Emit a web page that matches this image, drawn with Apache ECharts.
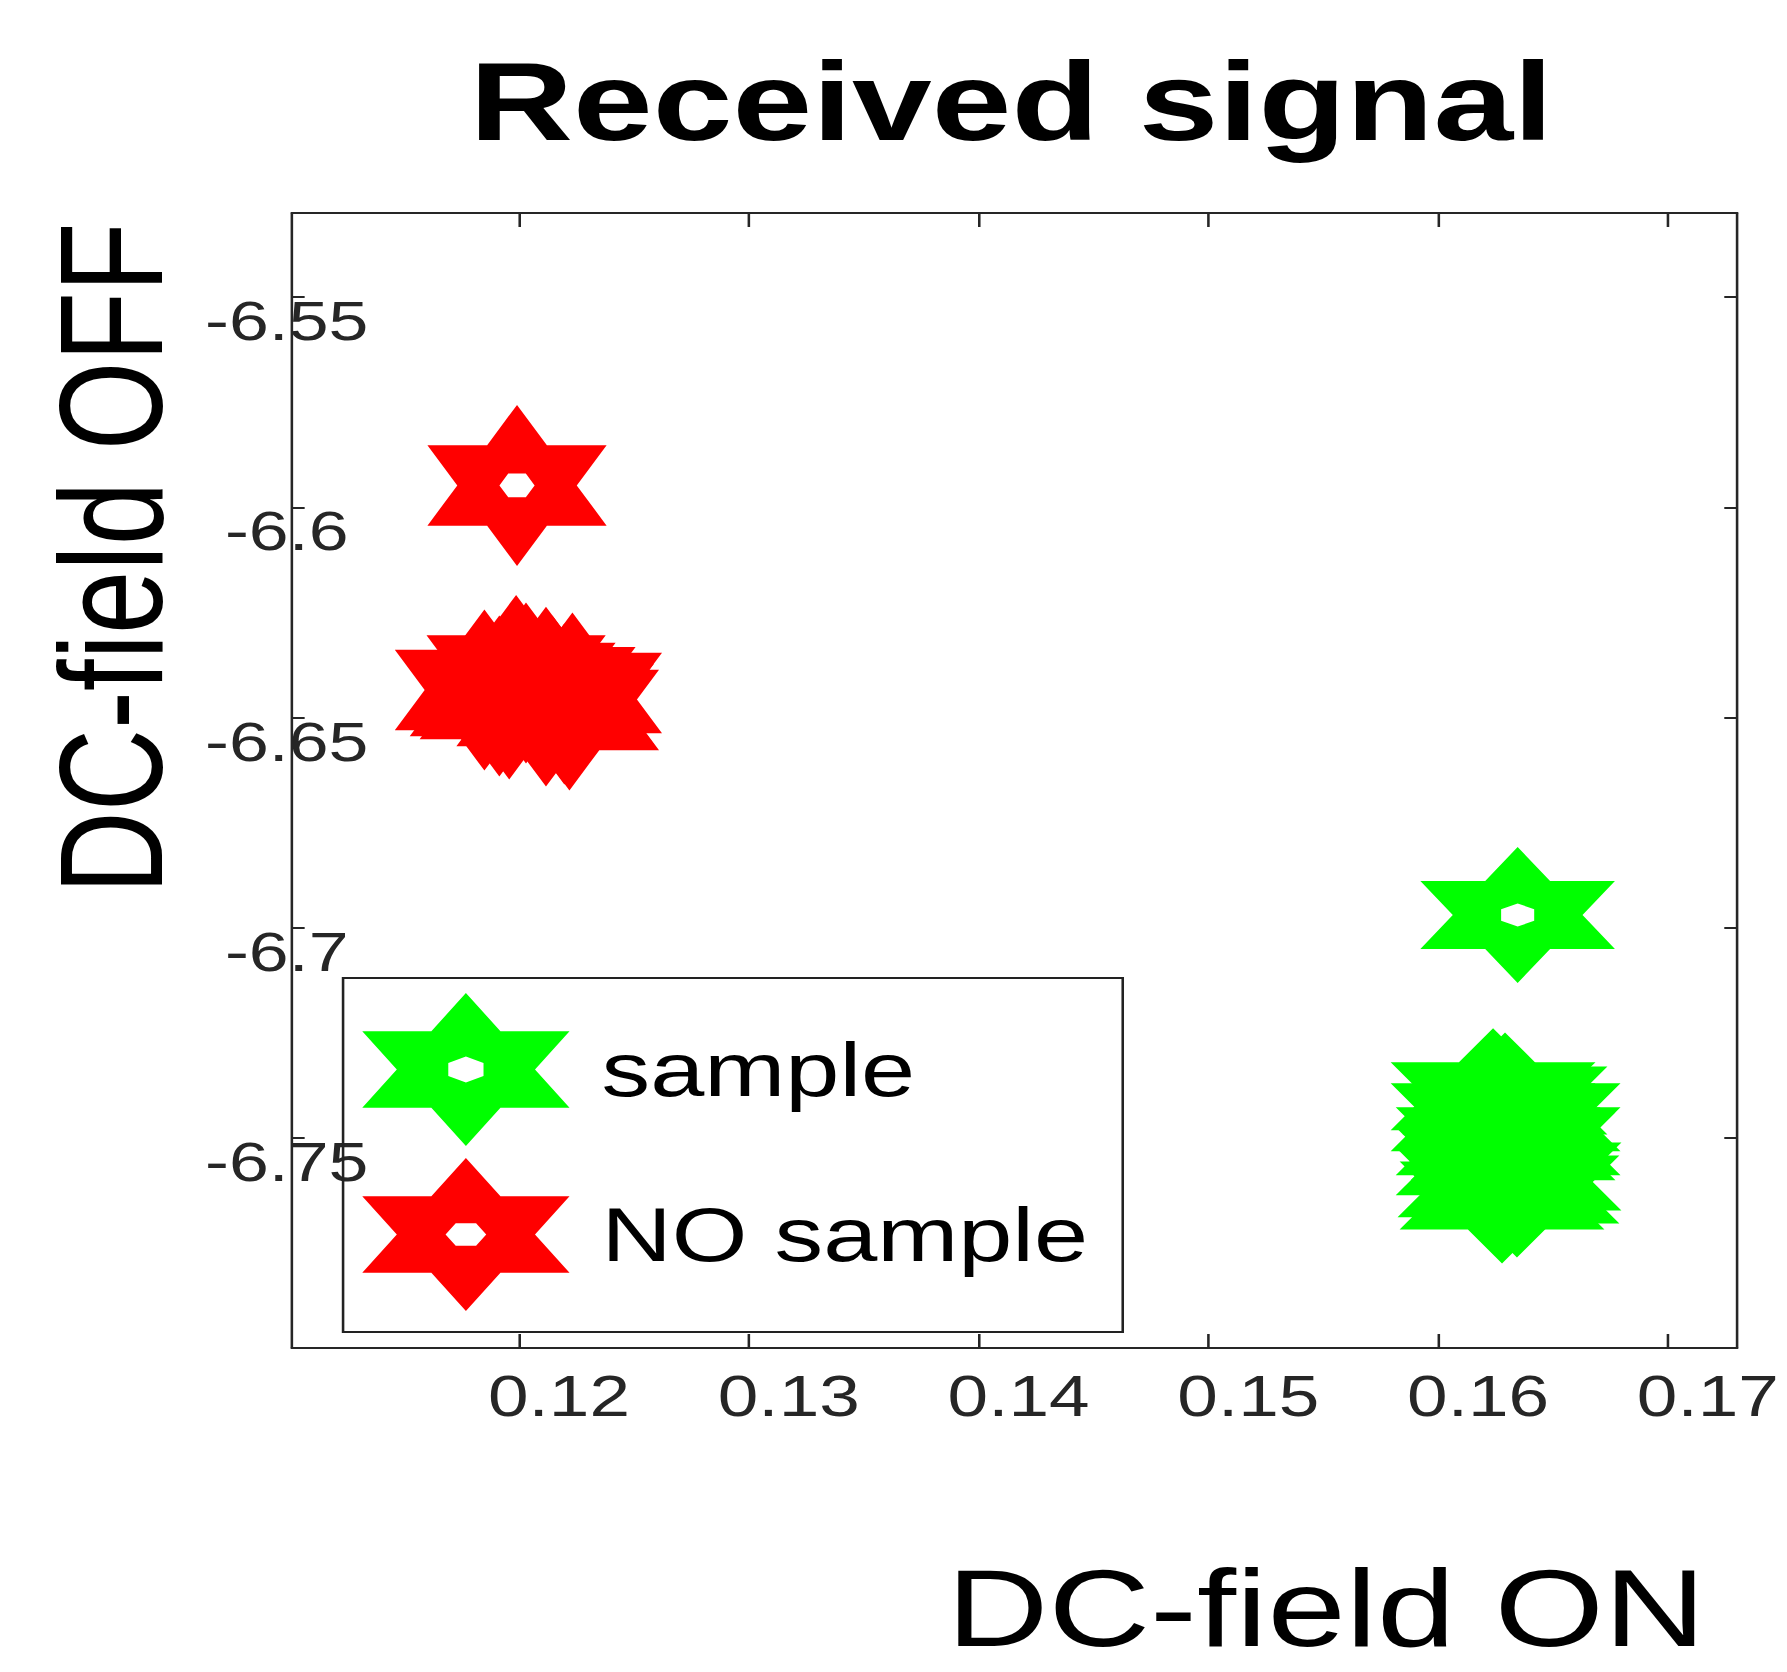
<!DOCTYPE html>
<html>
<head>
<meta charset="utf-8">
<script src="https://cdn.jsdelivr.net/npm/echarts@6/dist/echarts.min.js"></script>
<style>
html,body{margin:0;padding:0;background:#fff;overflow:hidden;}
#wrap{width:1787px;height:1672px;overflow:hidden;}
#chart{width:1396px;height:1672px;transform:scaleX(1.28009);transform-origin:0 0;}
</style>
</head>
<body>
<div id="wrap"><div id="chart"></div></div>
<script>
// ---- data ----
const xTicks = [0.12, 0.13, 0.14, 0.15, 0.16, 0.17];
const yTicks = [-6.75, -6.7, -6.65, -6.6, -6.55];
const seriesNames = ['sample', 'NO sample'];
// first point of each series is the isolated star
const sampleX = [0.16345, 0.16290, 0.16277, 0.16342, 0.16260, 0.16351, 0.16325, 0.16260, 0.16238, 0.16238, 0.16347, 0.16347, 0.16268];
const sampleY = [-6.6970, -6.7411, -6.7637, -6.7623, -6.7556, -6.7592, -6.7520, -6.7508, -6.7451, -6.7401, -6.7451, -6.7508, -6.7608];
const noSampleX = [0.1199, 0.12029, 0.11956, 0.12116, 0.12196, 0.11956, 0.12116, 0.11848, 0.11913, 0.11986, 0.12231, 0.12144, 0.12218];
const noSampleY = [-6.5948, -6.6418, -6.6440, -6.6473, -6.6468, -6.6456, -6.6428, -6.6435, -6.6449, -6.6400, -6.6442, -6.6449, -6.6482];

// ---- marker shapes ----
function hexagram(sx, hole, holeAngle) {
  const R = 100, r = R / Math.sqrt(3);
  let d = '';
  for (let k = 0; k < 12; k++) {
    const a = (90 - 30 * k) * Math.PI / 180;
    const rr = k % 2 === 0 ? R : r;
    d += (k === 0 ? 'M' : 'L') + (rr * Math.cos(a) * sx).toFixed(2) + ' ' + (-rr * Math.sin(a)).toFixed(2);
  }
  d += 'Z';
  if (hole) {
    const h = 17;
    for (let j = 0; j < 6; j++) {
      const a = (holeAngle + 60 * j) * Math.PI / 180;
      d += (j === 0 ? 'M' : 'L') + (h * Math.cos(a) * sx).toFixed(2) + ' ' + (-h * Math.sin(a)).toFixed(2);
    }
    d += 'Z';
  }
  return 'path://' + d;
}
const solidStar = hexagram(1, false, 0);
const greenHoled = hexagram(1, true, 90);
const redHoled = hexagram(1, true, 0);
const greenLegend = hexagram(1.222, true, 90);
const redLegend = hexagram(1.222, true, 0);

function buildData(xs, ys, holed, size) {
  return xs.map((x, i) => i === 0 ? { value: [x, ys[i]], symbol: holed, symbolSize: size } : { value: [x, ys[i]] });
}

const font = 'Liberation Sans, Arial, Helvetica, sans-serif';
const axisColor = '#262626';
const fmt = v => String(+(+v).toFixed(2));

const chart = echarts.init(document.getElementById('chart'), null, { renderer: 'svg' });
chart.setOption({
  animation: false,
  backgroundColor: '#ffffff',
  grid: { left: 228, right: 39, top: 213, bottom: 324, containLabel: false },
  xAxis: [{
    type: 'value', min: 0.1101, max: 0.1730, position: 'bottom',
    axisLine: { show: true, onZero: false, lineStyle: { color: axisColor, width: 2 } },
    axisTick: { show: true, inside: true, length: 14, customValues: xTicks, lineStyle: { color: axisColor, width: 2 } },
    axisLabel: { show: true, customValues: xTicks, formatter: fmt, fontFamily: font, fontSize: 57, color: axisColor,
      align: 'center', verticalAlign: 'top', margin: 20, padding: [0, 0, 0, 62] },
    splitLine: { show: false }
  }, {
    type: 'value', min: 0.1101, max: 0.1730, position: 'top',
    axisLine: { show: true, onZero: false, lineStyle: { color: axisColor, width: 2 } },
    axisTick: { show: true, inside: true, length: 14, customValues: xTicks, lineStyle: { color: axisColor, width: 2 } },
    axisLabel: { show: false }, splitLine: { show: false }
  }],
  yAxis: [{
    type: 'value', min: -6.80, max: -6.53, position: 'left',
    axisLine: { show: true, onZero: false, lineStyle: { color: axisColor, width: 2 } },
    axisTick: { show: true, inside: true, length: 10, customValues: yTicks, lineStyle: { color: axisColor, width: 2 } },
    axisLabel: { show: true, customValues: yTicks, formatter: fmt, fontFamily: font, fontSize: 56, color: axisColor,
      align: 'center', verticalAlign: 'top', lineHeight: 48, margin: 4 },
    splitLine: { show: false }
  }, {
    type: 'value', min: -6.80, max: -6.53, position: 'right',
    axisLine: { show: true, onZero: false, lineStyle: { color: axisColor, width: 2 } },
    axisTick: { show: true, inside: true, length: 10, customValues: yTicks, lineStyle: { color: axisColor, width: 2 } },
    axisLabel: { show: false }, splitLine: { show: false }
  }],
  legend: {
    orient: 'vertical', left: 268, top: 978,
    data: [{ name: seriesNames[0], icon: greenLegend }, { name: seriesNames[1], icon: redLegend }],
    itemWidth: 162, itemHeight: 153, itemGap: 12,
    padding: [15, 27, 21, 15],
    borderColor: '#222', borderWidth: 2, backgroundColor: 'transparent',
    textStyle: { fontFamily: font, fontSize: 76, color: '#000', padding: [0, 0, 0, 20] },
    selectedMode: false
  },
  graphic: [
    { type: 'text', x: 790, y: 101, style: { text: 'Received signal', fontFamily: font, fontSize: 112, fontWeight: 'bold', fill: '#000', textAlign: 'center', textVerticalAlign: 'middle', verticalAlign: 'middle' } },
    { type: 'text', x: 1036, y: 1608, style: { text: 'DC-field ON', fontFamily: font, fontSize: 110, lineHeight: 88, fill: '#000', textAlign: 'center', textVerticalAlign: 'middle', verticalAlign: 'middle' } },
    { type: 'text', x: 87, y: 558, rotation: Math.PI / 2, style: { text: 'DC-field OFF', fontFamily: font, fontSize: 114, fill: '#000', textAlign: 'center', textVerticalAlign: 'middle', verticalAlign: 'middle' } }
  ],
  series: [{
    type: 'scatter', name: seriesNames[0], xAxisIndex: 0, yAxisIndex: 0,
    data: buildData(sampleX, sampleY, greenHoled, [152, 136]),
    symbol: solidStar, symbolSize: [160, 136],
    itemStyle: { color: '#00ff00', opacity: 1 },
    emphasis: { disabled: true }, clip: true
  }, {
    type: 'scatter', name: seriesNames[1], xAxisIndex: 0, yAxisIndex: 0,
    data: buildData(noSampleX, noSampleY, redHoled, [140, 161]),
    symbol: solidStar, symbolSize: [140, 161],
    itemStyle: { color: '#ff0000', opacity: 1 },
    emphasis: { disabled: true }, clip: true
  }]
});
</script>
</body>
</html>
